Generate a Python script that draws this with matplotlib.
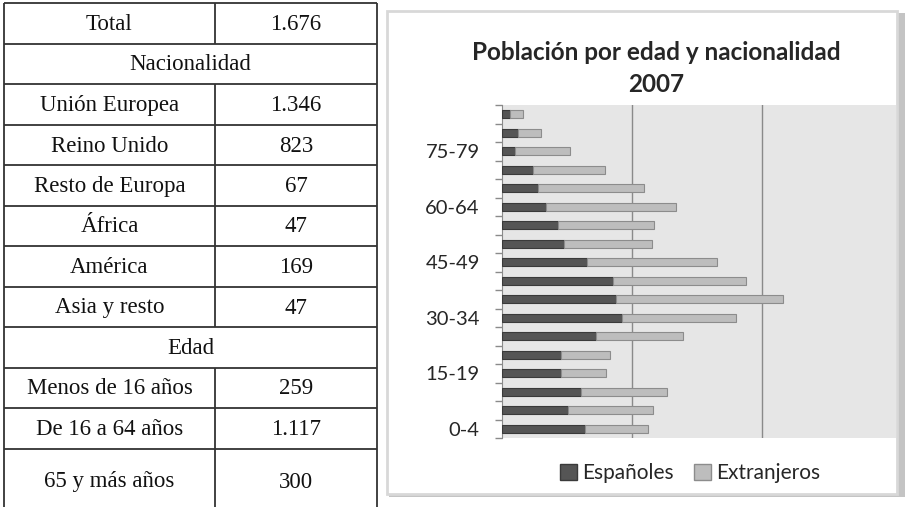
import matplotlib
matplotlib.use("Agg")
import numpy as np
import matplotlib.pyplot as plt
from matplotlib.patches import Rectangle, Patch

# table on the left
row_labels = ["Total", "Nacionalidad", "Unión Europea", "Reino Unido", "Resto de Europa",
              "África", "América", "Asia y resto", "Edad", "Menos de 16 años",
              "De 16 a 64 años", "65 y más años"]
row_values = ["1.676", None, "1.346", "823", "67", "47", "169", "47", None,
              "259", "1.117", "300"]

# pyramid data (age groups, bottom to top)
ages = ["0-4", "5-9", "10-14", "15-19", "20-24", "25-29", "30-34", "35-39", "40-44",
        "45-49", "50-54", "55-59", "60-64", "65-69", "70-74", "75-79", "80-84", "85+"]
espanoles = [64, 51, 61, 45, 45, 72, 92, 88, 85, 65, 48, 43, 34, 28, 24, 10, 12, 6]
extranjeros = [48, 65, 66, 35, 38, 67, 88, 128, 103, 100, 67, 74, 100, 81, 55, 42, 18, 10]

W, H = 909, 507
fig = plt.figure(figsize=(W / 100, H / 100), dpi=100)
fig.patch.set_facecolor("white")

bg = fig.add_axes([0, 0, 1, 1])
bg.set_xlim(0, W)
bg.set_ylim(H, 0)
bg.axis("off")

# table grid
x_left, x_mid, x_right = 4, 215, 377
row_lines = [3, 43.5, 84, 125, 165, 206, 246, 287, 327, 368, 408, 449, 520]
line_kw = dict(color="#333333", lw=1.3, solid_capstyle="butt")
for yl in row_lines[:-1]:
    bg.plot([x_left, x_right], [yl, yl], **line_kw)
bg.plot([x_left, x_left], [row_lines[0], H], **line_kw)
bg.plot([x_right, x_right], [row_lines[0], H], **line_kw)

serif = "Liberation Serif"
fs_tab = 16.5
for i, (lab, val) in enumerate(zip(row_labels, row_values)):
    y0, y1 = row_lines[i], row_lines[i + 1]
    yc = (y0 + y1) / 2 + 1 if i < len(row_labels) - 1 else 482
    if val is None:
        bg.text((x_left + x_right) / 2, yc, lab, ha="center", va="center",
                family=serif, fontsize=fs_tab, color="#111111")
    else:
        bg.plot([x_mid, x_mid], [y0, min(y1, H)], **line_kw)
        bg.text((x_left + x_mid) / 2, yc, lab, ha="center", va="center",
                family=serif, fontsize=fs_tab, color="#111111")
        bg.text((x_mid + x_right) / 2, yc, val, ha="center", va="center",
                family=serif, fontsize=fs_tab, color="#111111")

# chart frame with shadow
bg.add_patch(Rectangle((389, 13), 516, 484, facecolor="#c4c4c4", edgecolor="none"))
bg.add_patch(Rectangle((387, 11), 510, 483, facecolor="white", edgecolor="#d8d8d8", lw=2))

bg.text(656, 53, "Población por edad y nacionalidad", ha="center", va="center",
        family="Lato", fontweight="bold", fontsize=17.5, color="#262626")
bg.text(656, 84, "2007", ha="center", va="center",
        family="Lato", fontweight="bold", fontsize=17.5, color="#262626")

# plot area
px0, px1, py0, py1 = 502, 896, 105, 438
ax = fig.add_axes([px0 / W, 1 - py1 / H, (px1 - px0) / W, (py1 - py0) / H])
ax.set_facecolor("#e6e6e6")

y = np.arange(len(ages))
ax.barh(y, espanoles, height=0.45, color="#555555", edgecolor="#3a3a3a", lw=0.8,
        label="Españoles", zorder=3)
ax.barh(y, extranjeros, left=espanoles, height=0.45, color="#bdbdbd",
        edgecolor="#8c8c8c", lw=0.8, label="Extranjeros", zorder=3)

ax.set_xlim(0, 303)
ax.set_ylim(-0.5, len(ages) - 0.5)
ax.set_xticks([100, 200])
ax.xaxis.grid(True, color="#8a8a8a", lw=1)
ax.tick_params(axis="x", length=0, labelbottom=False)

ax.set_yticks(y[::3])
ax.set_yticklabels(ages[::3], family="Lato", fontsize=14.5, color="#262626")
ax.set_yticks(np.arange(-0.5, len(ages), 1), minor=True)
ax.tick_params(axis="y", which="major", length=0, pad=16)
ax.tick_params(axis="y", which="minor", length=5, color="#8a8a8a", width=1)

for side in ["top", "right", "bottom"]:
    ax.spines[side].set_visible(False)
ax.spines["left"].set_color("#8a8a8a")

handles = [Patch(facecolor="#555555", edgecolor="#3a3a3a", label="Españoles"),
           Patch(facecolor="#bdbdbd", edgecolor="#8c8c8c", label="Extranjeros")]
fig.legend(handles=handles, loc="center", bbox_to_anchor=(690 / W, 1 - 473 / H),
           ncol=2, frameon=False, prop={"family": "Lato", "size": 15},
           handlelength=0.8, handleheight=0.8, handletextpad=0.25, columnspacing=1.0,
           labelcolor="#262626")

fig.savefig("out.png", dpi=100)
